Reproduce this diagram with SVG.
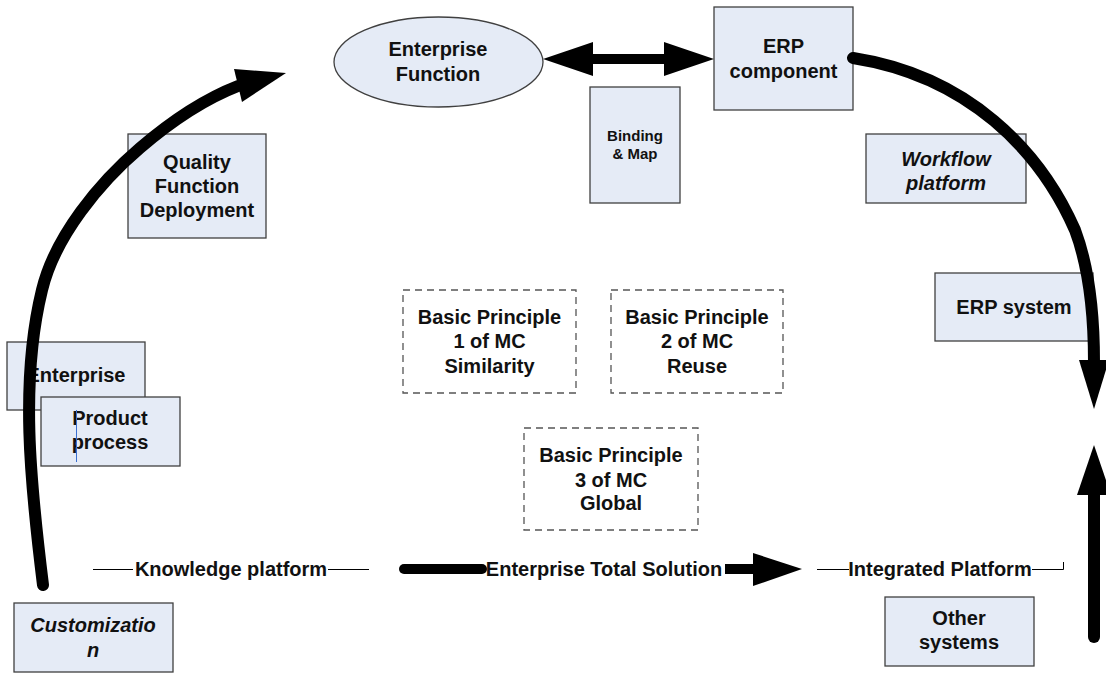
<svg xmlns="http://www.w3.org/2000/svg" width="1106" height="673" viewBox="0 0 1106 673">
<style>
.box{fill:#E5EBF6;stroke:#404040;stroke-width:1.3}
.dash{fill:#FFFFFF;stroke:#555555;stroke-width:1.3;stroke-dasharray:7,5}
.t{font-family:"Liberation Sans",Arial,sans-serif;font-weight:bold;font-size:20px;fill:#111111;text-anchor:middle}
.ts{font-size:15px}
.it{font-style:italic}
.thick{fill:none;stroke:#000000;stroke-width:12;stroke-linecap:round}
.thin{fill:none;stroke:#000000;stroke-width:1}
.head{fill:#000000}
</style>
<rect width="1106" height="673" fill="#FFFFFF"/>
<g id="ellipse-enterprise-function">
<ellipse class="box" cx="438.5" cy="62" rx="104.5" ry="45"/>
<text class="t" x="438" y="56">Enterprise</text>
<text class="t" x="438" y="81">Function</text>
</g>
<g id="erp-component">
<rect class="box" x="714" y="7" width="139" height="103"/>
<text class="t" x="783.5" y="53">ERP</text>
<text class="t" x="783.5" y="78">component</text>
</g>
<g id="binding-map">
<rect class="box" x="590" y="87" width="90" height="116"/>
<text class="t ts" x="635" y="141">Binding</text>
<text class="t ts" x="635" y="159">&amp; Map</text>
</g>
<g id="qfd">
<rect class="box" x="128" y="134" width="138" height="104"/>
<text class="t" x="197" y="169">Quality</text>
<text class="t" x="197" y="193">Function</text>
<text class="t" x="197" y="217">Deployment</text>
</g>
<g id="workflow-platform">
<rect class="box" x="866" y="134" width="160" height="69"/>
<text class="t it" x="946" y="166">Workflow</text>
<text class="t it" x="946" y="190">platform</text>
</g>
<g id="erp-system">
<rect class="box" x="935" y="273" width="158" height="68"/>
<text class="t" x="1014" y="314">ERP system</text>
</g>
<g id="enterprise">
<rect class="box" x="7" y="342" width="138" height="68"/>
<text class="t" x="76" y="382">Enterprise</text>
</g>
<g id="product-process">
<rect class="box" x="41" y="397" width="139" height="69"/>
<text class="t" x="110" y="425">Product</text>
<text class="t" x="110" y="449">process</text>
<line x1="76.5" y1="410" x2="76.5" y2="462" stroke="#3A6FD0" stroke-width="1"/>
</g>
<g id="customization">
<rect class="box" x="14" y="603" width="159" height="69"/>
<text class="t it" x="93" y="632">Customizatio</text>
<text class="t it" x="93" y="657">n</text>
</g>
<g id="other-systems">
<rect class="box" x="885" y="597" width="149" height="69"/>
<text class="t" x="959" y="625">Other</text>
<text class="t" x="959" y="649">systems</text>
</g>
<g id="principle-1">
<rect class="dash" x="403" y="290" width="173" height="103"/>
<text class="t" x="489.5" y="324">Basic Principle</text>
<text class="t" x="489.5" y="348">1 of MC</text>
<text class="t" x="489.5" y="373">Similarity</text>
</g>
<g id="principle-2">
<rect class="dash" x="611" y="290" width="172" height="103"/>
<text class="t" x="697" y="324">Basic Principle</text>
<text class="t" x="697" y="348">2 of MC</text>
<text class="t" x="697" y="373">Reuse</text>
</g>
<g id="principle-3">
<rect class="dash" x="524" y="428" width="174" height="102"/>
<text class="t" x="611" y="462">Basic Principle</text>
<text class="t" x="611" y="487">3 of MC</text>
<text class="t" x="611" y="510">Global</text>
</g>
<g id="connectors">
<path class="thick" d="M43,585 C30,480 20,380 42,290 C55,236 100,182 140,148 C168,124 202,100 238,86"/>
<polygon class="head" points="286,73 234,69 242,102"/>
<path class="thick" d="M853,58 C968,76 1040,150 1075,230 C1090,270 1094,320 1094,362"/>
<polygon class="head" points="1094,409 1079,360 1109,360"/>
<line class="thick" x1="1094" y1="637" x2="1094" y2="492" stroke-width="11"/>
<polygon class="head" points="1094,445 1077,495 1111,495"/>
<rect x="593" y="54" width="71" height="10" class="head"/>
<polygon class="head" points="543,59 593,42 593,76"/>
<polygon class="head" points="714,59 664,42 664,76"/>
<line x1="404" y1="569" x2="482" y2="569" stroke="#000" stroke-width="10" stroke-linecap="round"/>
<rect x="725" y="564" width="30" height="10" class="head"/>
<polygon class="head" points="802,569 753,553 753,586"/>
<line class="thin" x1="93" y1="569.5" x2="133" y2="569.5"/>
<line class="thin" x1="328" y1="569.5" x2="369" y2="569.5"/>
<line class="thin" x1="817" y1="569.5" x2="849" y2="569.5"/>
<polyline class="thin" points="1032,569.5 1063.5,569.5 1063.5,562"/>
<text class="t" x="231" y="576">Knowledge platform</text>
<text class="t" x="604" y="576">Enterprise Total Solution</text>
<text class="t" x="940" y="576">Integrated Platform</text>
</g>
</svg>
